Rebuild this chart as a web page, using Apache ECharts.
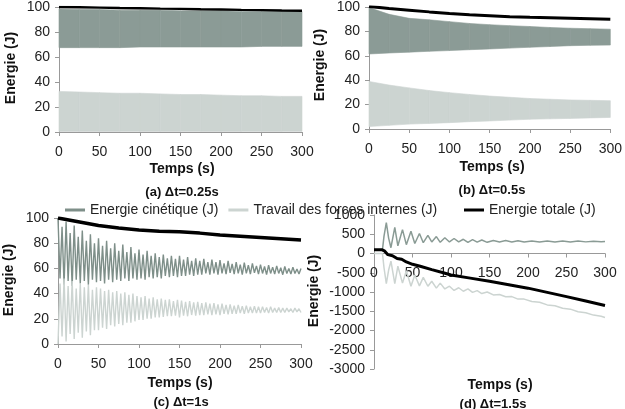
<!DOCTYPE html>
<html>
<head>
<meta charset="utf-8">
<script src="https://cdn.jsdelivr.net/npm/echarts@6/dist/echarts.min.js"></script>
<style>
  html, body { margin: 0; padding: 0; background: #fff; }
  #box { width: 625px; height: 409px; }
</style>
</head>
<body>
<div id="box"></div>
<script>
// noms des séries (légende)
var names = ['Energie cinétique (J)', 'Travail des forces internes (J)', 'Energie totale (J)'];

// (a) et (b) : enveloppes lues tous les 25 s
var timesAB = [0, 25, 50, 75, 100, 125, 150, 175, 200, 225, 250, 275, 300];
var cineHiA = [98.5, 98, 98, 97.5, 97.5, 97.5, 97, 97, 97, 96.5, 96.5, 96.5, 96.5];
var cineLoA = [67.5, 67.5, 67.5, 67.5, 68, 68, 68, 68, 68, 68, 68.5, 68.5, 68.5];
var travHiA = [32.5, 32, 31.5, 31, 31, 30.5, 30, 30, 29.5, 29, 29, 28.5, 28.5];
var travLoA = [0.5, 0.5, 0.5, 0.5, 0.5, 0.5, 0.5, 0.5, 0.5, 0.5, 0.5, 0.5, 0.5];
var totalA  = [100, 99.8, 99.5, 99.2, 99, 98.7, 98.5, 98.2, 98, 97.7, 97.5, 97.2, 97];

var cineHiB = [99.5, 94, 90.7, 89.5, 88, 86.5, 85.5, 84.7, 84, 83.2, 82.6, 82.2, 81.8];
var cineLoB = [61.5, 62.3, 63, 63.7, 64.3, 65, 65.6, 66.3, 67, 67.6, 68.3, 68.6, 68.8];
var travHiB = [39, 36, 33.7, 31.5, 29.8, 28.3, 27, 26, 25, 24.4, 23.8, 23.5, 23.2];
var travLoB = [2, 3, 4, 4.6, 5.2, 6, 6.6, 7.3, 8, 8.3, 8.7, 9.1, 9.5];
var totalB  = [100.5, 98.8, 97.4, 96, 94.7, 93.7, 92.9, 92.1, 91.5, 91.1, 90.7, 90.3, 89.9];

// (c) : oscillations, pics et creux lus tous les 2.5 s
var timeC = [
  0, 2.5, 5, 7.5, 10, 12.5, 15, 17.5, 20, 22.5, 25, 27.5, 30, 32.5, 35, 37.5, 40, 42.5, 45, 47.5,
  50, 52.5, 55, 57.5, 60, 62.5, 65, 67.5, 70, 72.5, 75, 77.5, 80, 82.5, 85, 87.5, 90, 92.5, 95, 97.5,
  100, 102.5, 105, 107.5, 110, 112.5, 115, 117.5, 120, 122.5, 125, 127.5, 130, 132.5, 135, 137.5, 140, 142.5, 145, 147.5,
  150, 152.5, 155, 157.5, 160, 162.5, 165, 167.5, 170, 172.5, 175, 177.5, 180, 182.5, 185, 187.5, 190, 192.5, 195, 197.5,
  200, 202.5, 205, 207.5, 210, 212.5, 215, 217.5, 220, 222.5, 225, 227.5, 230, 232.5, 235, 237.5, 240, 242.5, 245, 247.5,
  250, 252.5, 255, 257.5, 260, 262.5, 265, 267.5, 270, 272.5, 275, 277.5, 280, 282.5, 285, 287.5, 290, 292.5, 295, 297.5,
  300
];
var cineC = [
  100, 52, 93, 47, 97, 50, 88, 46, 94, 51, 85, 48, 90, 50, 82, 47, 87, 51, 80, 49,
  84, 50, 78, 48, 82, 51, 76, 49, 80, 51, 74, 50, 79, 52, 73, 50, 77, 52, 72, 51,
  75, 52, 71, 51, 74, 53, 70, 52, 72, 53, 69, 52, 71, 54, 68, 53, 70, 54, 67.5, 53,
  70, 54, 67, 54, 69, 55, 66, 54, 68, 55, 66, 55, 67.5, 56, 65, 55, 67, 56, 65, 55,
  66.5, 56, 64, 55.5, 66, 56.5, 63.5, 55.5, 65, 56, 63, 55, 64.5, 56, 62.5, 55.5, 64, 56.5, 62, 55.5,
  63, 56, 61.5, 55, 62.5, 56, 61, 55.5, 62, 56, 60.5, 55, 61.5, 56, 60, 55.5, 61, 56, 59.5, 55.5,
  60
];
var travC = [
  0, 48, 6, 52, 2, 46, 8, 50, 4, 44, 9, 48, 5, 45, 10, 47, 7, 43, 11, 45,
  11, 44, 13, 42, 12, 43, 15, 41, 14, 42, 16, 40, 15, 41, 17, 39, 17, 40, 18, 38,
  19, 37, 19, 38, 20, 36, 20, 37, 21, 35.5, 21, 36, 21.5, 35, 22, 35.5, 22, 34, 22.5, 35,
  21, 34.5, 22.5, 33.5, 22, 34, 23, 33, 22.5, 33.5, 23, 32.5, 23, 33, 23.5, 32, 23, 32.5, 23.5, 31.5,
  23, 32, 24, 31, 23.5, 31.5, 24, 30.5, 24, 31, 24.5, 30, 24, 30.5, 24.5, 29.5, 24.5, 30, 24.5, 29.5,
  24.5, 29.5, 25, 29, 24.5, 29.5, 25, 28.5, 25, 29, 25, 28.5, 25, 28.5, 25.5, 28, 25, 28.5, 25.5, 28,
  25
];
var timesTotC = [0, 25, 50, 75, 100, 125, 150, 175, 200, 225, 250, 275, 300];
var totalC    = [100, 97, 94, 92, 90.5, 89.5, 89, 88, 86.5, 85.5, 84.5, 83.5, 82.5];

// (d) : [temps, énergie]
var cineD = [[0,100],[11,100],[13,450],[16,800],[19,400],[22,150],[27,680],[31,200],[37,620],[42,230],
  [48,580],[53,260],[59,520],[64,280],[70,470],[75,300],[81,440],[86,290],[92,410],[98,300],
  [104,390],[110,300],[116,370],[122,290],[128,360],[134,295],[140,350],[147,290],[155,340],[163,300],
  [171,335],[179,300],[187,330],[195,300],[205,325],[215,300],[225,325],[235,300],[245,322],[255,300],
  [265,322],[275,302],[285,320],[295,305],[300,312]];
var travD = [[0,0],[11,0],[13,-370],[16,-780],[19,-430],[22,-200],[27,-780],[31,-330],[37,-770],[42,-450],
  [48,-850],[53,-560],[59,-840],[64,-620],[70,-850],[75,-720],[81,-900],[86,-770],[92,-920],[98,-850],
  [104,-960],[110,-890],[116,-980],[122,-920],[128,-1010],[134,-965],[140,-1040],[147,-1000],[155,-1075],[163,-1065],
  [171,-1125],[179,-1120],[187,-1185],[195,-1185],[205,-1245],[215,-1265],[225,-1335],[235,-1355],[245,-1422],[255,-1445],
  [265,-1512],[275,-1537],[285,-1600],[295,-1630],[300,-1662]];
var totalD = [[0,100],[10,100],[14,60],[18,-30],[24,-60],[30,-130],[36,-150],[42,-220],[50,-280],[60,-330],
  [75,-420],[90,-500],[100,-560],[125,-640],[150,-720],[175,-810],[200,-900],[225,-1010],[250,-1120],
  [275,-1235],[300,-1350]];

var FONT = 'Liberation Sans, Arial, sans-serif';
var C_CINE = '#7e8f89', C_BAND = '#8b9b96', C_TRAV = '#ccd4d1', C_TOT = '#000';

var myChart = echarts.init(document.getElementById('box'));

function xAx(i, offset) {
  return {
    type: 'value', gridIndex: i, min: 0, max: 300, interval: 50,
    offset: offset || 0,
    axisLine: { onZero: false, lineStyle: { color: '#999' } },
    axisTick: { length: 4, lineStyle: { color: '#999' } },
    axisLabel: { fontSize: 14, color: '#222', fontFamily: FONT, margin: 13 },
    splitLine: { show: false }
  };
}
function yAx(i, min, max, itv) {
  return {
    type: 'value', gridIndex: i, min: min, max: max, interval: itv,
    axisLine: { show: true, lineStyle: { color: '#999' } },
    axisTick: { show: true, length: 4, lineStyle: { color: '#999' } },
    axisLabel: { fontSize: 14, color: '#222', fontFamily: FONT, margin: 9,
      formatter: function (v) { return String(v); } },
    splitLine: { show: false }
  };
}
function pairs(xs, ys) {
  return xs.map(function (t, k) { return [t, ys[k]]; });
}
// bande remplie entre deux enveloppes : un polygone par intervalle
function band(i, lo, hi, color) {
  var data = [];
  for (var k = 0; k < timesAB.length - 1; k++) {
    data.push([timesAB[k], timesAB[k + 1], lo[k], hi[k], lo[k + 1], hi[k + 1]]);
  }
  return {
    type: 'custom', coordinateSystem: 'cartesian2d', xAxisIndex: i, yAxisIndex: i, silent: true,
    encode: { x: [0, 1], y: [2, 3, 4, 5] },
    renderItem: function (params, api) {
      var p1 = api.coord([api.value(0), api.value(3)]);
      var p2 = api.coord([api.value(1), api.value(5)]);
      var p3 = api.coord([api.value(1), api.value(4)]);
      var p4 = api.coord([api.value(0), api.value(2)]);
      return { type: 'polygon', shape: { points: [p1, p2, p3, p4] },
        style: { fill: color, stroke: color, lineWidth: 0.6 } };
    },
    data: data
  };
}
function line(i, name, data, color, w) {
  return { name: name, type: 'line', xAxisIndex: i, yAxisIndex: i, symbol: 'none',
    lineStyle: { color: color, width: w }, itemStyle: { color: color }, data: data };
}

var series = [
  line(2, names[0], pairs(timeC, cineC), C_CINE, 1.4),
  line(2, names[1], pairs(timeC, travC), C_TRAV, 1.4),
  line(2, names[2], pairs(timesTotC, totalC), C_TOT, 3.5),
  line(3, names[0], cineD, '#8a9b95', 1.5),
  line(3, names[1], travD, C_TRAV, 1.5),
  line(3, names[2], totalD, C_TOT, 3),
  band(0, cineLoA, cineHiA, C_BAND),
  band(0, travLoA, travHiA, C_TRAV),
  line(0, 'tA', pairs(timesAB, totalA), C_TOT, 2.5),
  band(1, cineLoB, cineHiB, C_BAND),
  band(1, travLoB, travHiB, C_TRAV),
  line(1, 'tB', pairs(timesAB, totalB), C_TOT, 3)
];

function txt(x, y, s, size, rot) {
  return { type: 'text', x: x, y: y, rotation: rot || 0,
    style: { text: s, fontSize: size, fontWeight: 'bold', fontFamily: FONT, fill: '#111',
      align: 'center', verticalAlign: 'middle' } };
}

var legendBase = {
  top: 198, itemWidth: 20, itemHeight: 3, itemGap: 10, icon: 'rect',
  textStyle: { fontSize: 14, color: '#222', fontFamily: FONT }
};

var option = {
  animation: false,
  backgroundColor: '#fff',
  grid: [
    { left: 59, top: 6, width: 243, height: 126 },
    { left: 369, top: 3, width: 243, height: 126 },
    { left: 58, top: 218, width: 243, height: 126 },
    { left: 374, top: 215, width: 231, height: 154 }
  ],
  // axe des temps de (d) placé sur la ligne y = 0
  xAxis: [xAx(0), xAx(1), xAx(2), xAx(3, -115.5)],
  yAxis: [yAx(0, 0, 100, 20), yAx(1, 0, 100, 20), yAx(2, 0, 100, 20), yAx(3, -3000, 1000, 500)],
  legend: [
    Object.assign({ left: 60, data: [names[0], names[1]] }, legendBase),
    Object.assign({ left: 459, data: [names[2]] }, legendBase)
  ],
  graphic: [
    txt(11, 68, 'Energie (J)', 14, Math.PI / 2),
    txt(320, 65, 'Energie (J)', 14, Math.PI / 2),
    txt(9, 280, 'Energie (J)', 14, Math.PI / 2),
    txt(314, 291, 'Energie (J)', 14, Math.PI / 2),
    txt(182, 169, 'Temps (s)', 14),
    txt(492, 167, 'Temps (s)', 14),
    txt(180, 383, 'Temps (s)', 14),
    txt(500, 385, 'Temps (s)', 14),
    txt(182, 192, '(a) Δt=0.25s', 13),
    txt(492, 190, '(b) Δt=0.5s', 13),
    txt(181, 402, '(c) Δt=1s', 13),
    txt(493, 404, '(d) Δt=1.5s', 13)
  ],
  series: series
};

myChart.setOption(option);
</script>
</body>
</html>
